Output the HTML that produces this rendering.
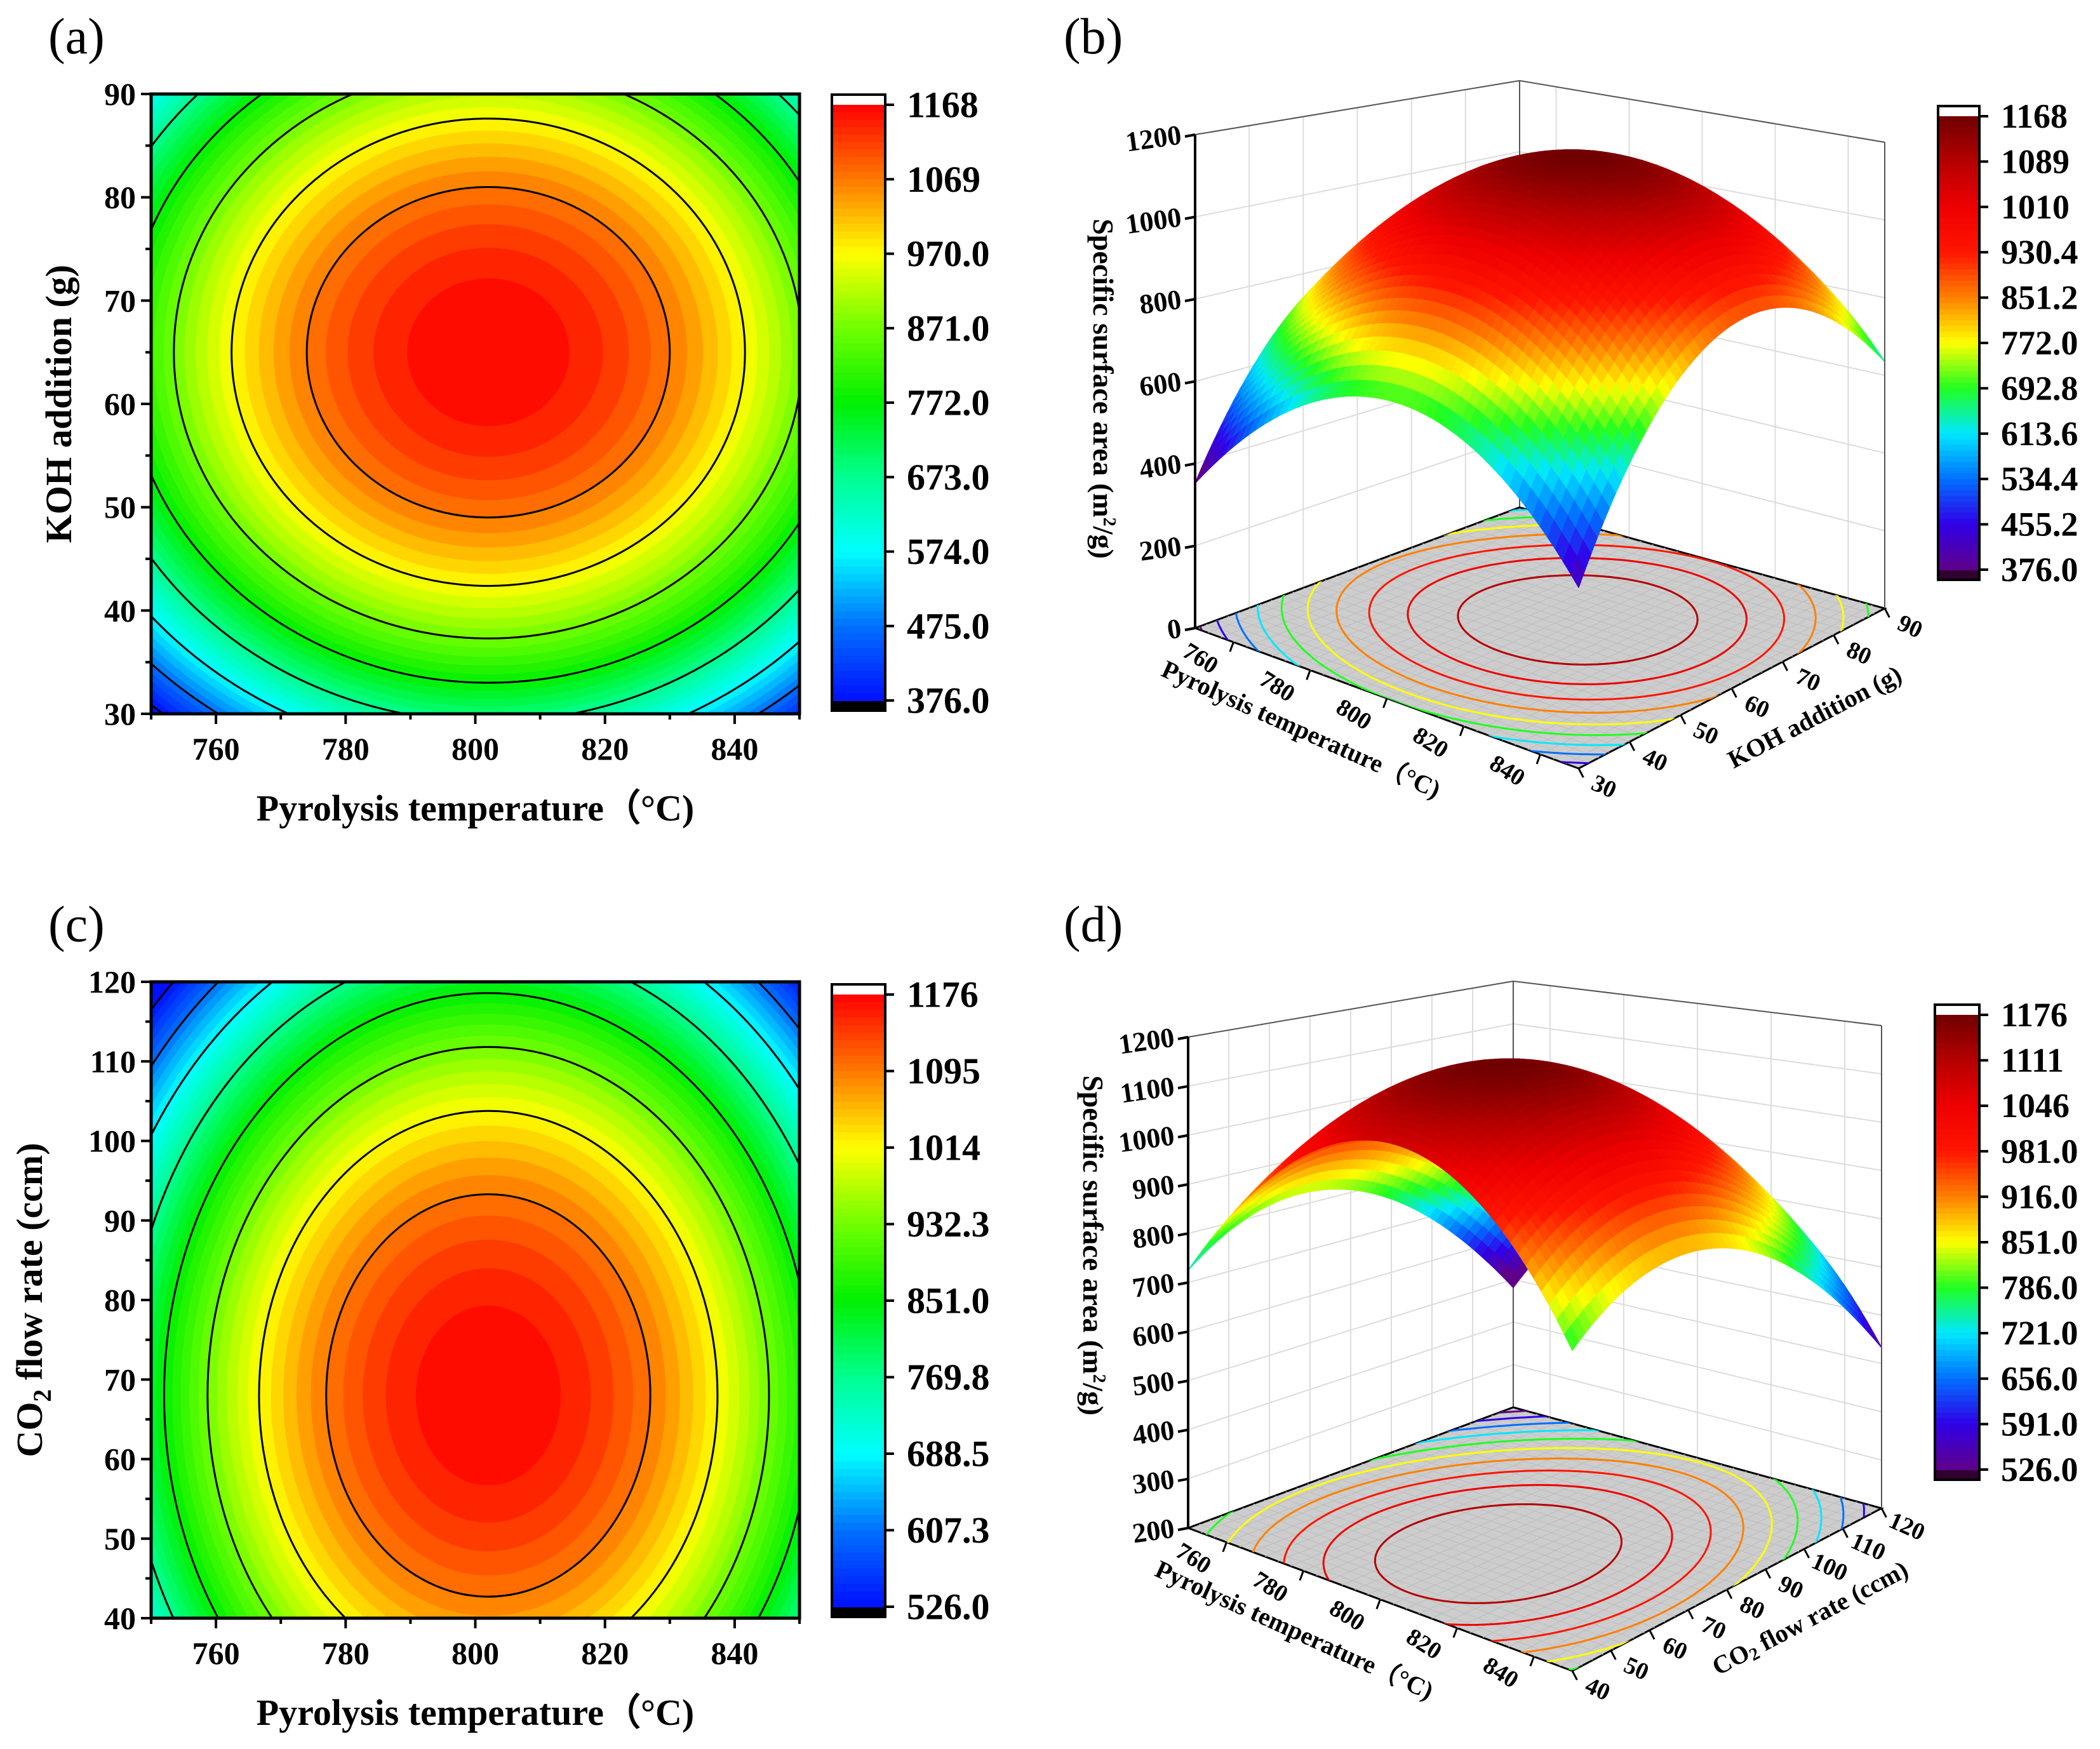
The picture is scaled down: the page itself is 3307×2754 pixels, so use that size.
<!DOCTYPE html>
<html><head><meta charset="utf-8"><style>
html,body{margin:0;padding:0;background:#fff;overflow:hidden;width:3307px;height:2754px;}
svg{display:block;font-family:"Liberation Serif",serif;}
</style></head><body>
<svg id="fig" xmlns="http://www.w3.org/2000/svg" width="3307" height="2754" viewBox="0 0 3307 2754" overflow="hidden">
<rect x="0" y="0" width="3307" height="2754" fill="#fff"/>
<text x="76" y="84" font-size="80">(a)</text>
<text x="1675" y="84" font-size="80">(b)</text>
<text x="76" y="1482" font-size="80">(c)</text>
<text x="1675" y="1482" font-size="80">(d)</text>
</svg>
<script>
// ---- data ----
const tempTicks=[760,780,800,820,840];
const kohTicks=[30,40,50,60,70,80,90];
const co2Ticks=[40,50,60,70,80,90,100,110,120];
const zTicksB=[0,200,400,600,800,1000,1200];
const zTicksD=[200,300,400,500,600,700,800,900,1000,1100,1200];
const cbarLabelsA=["1168","1069","970.0","871.0","772.0","673.0","574.0","475.0","376.0"];
const cbarLabelsC=["1176","1095","1014","932.3","851.0","769.8","688.5","607.3","526.0"];
const cbarLabelsB=["1168","1089","1010","930.4","851.2","772.0","692.8","613.6","534.4","455.2","376.0"];
const cbarLabelsD=["1176","1111","1046","981.0","916.0","851.0","786.0","721.0","656.0","591.0","526.0"];
// fitted response-surface parameters [KOH model, CO2 model]
const surfacePeak=[1168,1176];
const surfaceMin=[376,526];
const optimumTemp=[802,802];
const optimumSecond=[65,68];
const curvTemp=[0.1263,0.13];
const curvSecond=[0.387,0.127];

const NS='http://www.w3.org/2000/svg';
const svg=document.getElementById('fig');
function mk(tag,attrs,parent){const e=document.createElementNS(NS,tag);for(const k in attrs)e.setAttribute(k,attrs[k]);(parent||svg).appendChild(e);return e;}
function hex(c){return [parseInt(c.substr(1,2),16),parseInt(c.substr(3,2),16),parseInt(c.substr(5,2),16)];}
function cmap(stops,t){t=Math.max(0,Math.min(1,t));for(let i=1;i<stops.length;i++){if(t<=stops[i][0]){const a=stops[i-1],b=stops[i];const f=(t-a[0])/(b[0]-a[0]);const ca=hex(a[1]),cb=hex(b[1]);return 'rgb('+ca.map((v,j)=>Math.round(v+(cb[j]-v)*f)).join(',')+')';}}return stops[stops.length-1][1];}
const cmap2D=[[0,'#0010ff'],[0.125,'#0070ff'],[0.25,'#00ffff'],[0.375,'#00ff90'],[0.5,'#00f000'],[0.625,'#70ff00'],[0.75,'#ffff00'],[0.875,'#ff7800'],[1,'#ff0000']];
const cmap3D=[[0,'#60008a'],[0.1,'#3000e8'],[0.2,'#0070ff'],[0.3,'#00e8ff'],[0.4,'#20ff20'],[0.5,'#ffff00'],[0.6,'#ff8000'],[0.7,'#ff1500'],[0.8,'#ee0000'],[0.9,'#b50000'],[1,'#700000']];
function model(i,t,s){return surfacePeak[i]-curvTemp[i]*(t-optimumTemp[i])**2-curvSecond[i]*(s-optimumSecond[i])**2;}

function colorbar(x0,x1,yTop,yBot,stops,labels,fs,name){
  const g=mk('g',{});
  
  
  const nb=80,h=(yBot-yTop);
  mk('rect',{x:x0,y:yTop-16,width:x1-x0,height:16,fill:'#fff'},g);
  mk('rect',{x:x0,y:yBot,width:x1-x0,height:16,fill:stops===cmap2D?'#000':'#300030'},g);
  for(let j=0;j<nb;j++){mk('rect',{x:x0,y:yTop+j*h/nb,width:x1-x0,height:h/nb+1,fill:cmap(stops,1-(j+0.5)/nb)},g);}
  const fr=mk('rect',{x:x0,y:yTop-16,width:x1-x0,height:h+32,fill:'none',stroke:'#000','stroke-width':4},g);
  
  
  labels.forEach((l,j)=>{const y=yTop+j*h/(labels.length-1);
    mk('line',{x1:x1,x2:x1+14,y1:y,y2:y,stroke:'#000','stroke-width':4},g);
    const t=mk('text',{x:x1+34,y:y,'font-size':fs,'font-weight':'bold','dominant-baseline':'central'},g);
    t.textContent=l;
    
    });
}

function panel2D(o){
  const i=o.idx,g=mk('g',{});
  
  
  const cid='clip'+o.name;
  const cp=mk('clipPath',{id:cid},g);mk('rect',{x:o.x0,y:o.y0,width:o.x1-o.x0,height:o.y1-o.y0},cp);
  const sx=v=>o.x0+(v-o.tmin)/(o.tmax-o.tmin)*(o.x1-o.x0);
  const sy=v=>o.y1-(v-o.smin)/(o.smax-o.smin)*(o.y1-o.y0);
  const pxT=(o.x1-o.x0)/(o.tmax-o.tmin),pxS=(o.y1-o.y0)/(o.smax-o.smin);
  const vmin=surfaceMin[i],vmax=surfacePeak[i],P=surfacePeak[i];
  const cg=mk('g',{'clip-path':'url(#'+cid+')'},g);
  mk('rect',{x:o.x0,y:o.y0,width:o.x1-o.x0,height:o.y1-o.y0,fill:cmap(cmap2D,0)},cg);
  const nb=40,d=(vmax-vmin)/nb;
  const cx=sx(optimumTemp[i]),cy=sy(optimumSecond[i]);
  for(let j=-6;j<nb;j++){const L=vmin+j*d;if(L>=P)continue;
    const e=mk('ellipse',{cx:cx,cy:cy,rx:Math.sqrt((P-L)/curvTemp[i])*pxT,ry:Math.sqrt((P-L)/curvSecond[i])*pxS,fill:cmap(cmap2D,(L+d/2-vmin)/(vmax-vmin)),stroke:'none'},cg);
    
    }
  const step=(vmax-vmin)/8;
  for(let n=1;n<=12;n++){const L=P-n*step;
    const e=mk('ellipse',{cx:cx,cy:cy,rx:Math.sqrt((P-L)/curvTemp[i])*pxT,ry:Math.sqrt((P-L)/curvSecond[i])*pxS,fill:'none',stroke:'#000','stroke-width':3},cg);
    
    }
  const fr=mk('rect',{x:o.x0,y:o.y0,width:o.x1-o.x0,height:o.y1-o.y0,fill:'none',stroke:'#000','stroke-width':5},g);
  
  
  for(let v=o.tmin;v<=o.tmax;v+=10){const x=sx(v),maj=tempTicks.includes(v);
    mk('line',{x1:x,x2:x,y1:o.y1,y2:o.y1+(maj?16:9),stroke:'#000','stroke-width':4},g);}
  tempTicks.forEach(v=>{const t=mk('text',{x:sx(v),y:o.y1+72,'font-size':50,'font-weight':'bold','text-anchor':'middle'},g);t.textContent=v;
    
    });
  const st=o.yticks[1]-o.yticks[0];
  for(let v=o.smin;v<=o.smax+0.01;v+=st/2){const y=sy(v),maj=o.yticks.includes(v);
    mk('line',{x1:o.x0,x2:o.x0-(maj?16:9),y1:y,y2:y,stroke:'#000','stroke-width':4},g);}
  o.yticks.forEach(v=>{const t=mk('text',{x:o.x0-24,y:sy(v),'font-size':50,'font-weight':'bold','text-anchor':'end','dominant-baseline':'central'},g);t.textContent=v;
    
    });
  const xt=mk('text',{x:(o.x0+o.x1)/2,y:o.y1+168,'font-size':58,'font-weight':'bold','text-anchor':'middle'},g);
  xt.textContent='Pyrolysis temperature（°C)';
  
  
  const yt=mk('text',{x:0,y:0,'font-size':58,'font-weight':'bold','text-anchor':'middle',transform:'translate('+o.ytx+','+(o.y0+o.y1)/2+') rotate(-90)'},g);
  yt.innerHTML=o.ytitle;
  
  
}

function unit(v){const l=Math.hypot(v[0],v[1]);return [v[0]/l,v[1]/l];}
function panel3D(o){
  const i=o.idx,g=mk('g',{});
  
  
  const tr=o.tmax-o.tmin,sr=o.smax-o.smin,zr=o.zmax-o.zmin;
  const C=o.corners,H=o.heights; // L,F,R,B
  const P=(t,s,z)=>{const a=(t-o.tmin)/tr,b=(s-o.smin)/sr;
    const w=[(1-a)*(1-b),a*(1-b),a*b,(1-a)*b];
    let x=0,y=0,h=0;for(let k=0;k<4;k++){x+=w[k]*C[k][0];y+=w[k]*C[k][1];h+=w[k]*H[k];}
    return [x,y-(z-o.zmin)/zr*h];};
  const pts=a=>a.map(p=>p[0].toFixed(1)+','+p[1].toFixed(1)).join(' ');
  const tmin=o.tmin,tmax=o.tmax,smin=o.smin,smax=o.smax,zmin=o.zmin,zmax=o.zmax;
  mk('polygon',{points:pts([P(tmin,smin,zmin),P(tmin,smax,zmin),P(tmin,smax,zmax),P(tmin,smin,zmax)]),fill:'#fff'},g);
  const gl={stroke:'#dcdcdc','stroke-width':2};
  o.zticks.forEach(z=>{let a=P(tmin,smin,z),b=P(tmin,smax,z),c=P(tmax,smax,z);mk('polyline',Object.assign({points:pts([a,b,c]),fill:'none'},gl),g);});
  tempTicks.forEach(t=>{let a=P(t,smax,zmin),b=P(t,smax,zmax);mk('line',Object.assign({x1:a[0],y1:a[1],x2:b[0],y2:b[1]},gl),g);});
  o.sticks.forEach(s=>{let a=P(tmin,s,zmin),b=P(tmin,s,zmax);mk('line',Object.assign({x1:a[0],y1:a[1],x2:b[0],y2:b[1]},gl),g);});
  const bl={stroke:'#555','stroke-width':2};
  const bv=[P(tmin,smax,zmin),P(tmin,smax,zmax)];
  mk('line',Object.assign({x1:bv[0][0],y1:bv[0][1],x2:bv[1][0],y2:bv[1][1]},bl),g);
  const floorPts=pts([P(tmin,smin,zmin),P(tmax,smin,zmin),P(tmax,smax,zmin),P(tmin,smax,zmin)]);
  const fl=mk('polygon',{points:floorPts,fill:'#cdcdcd',stroke:'#000','stroke-width':3},g);
  
  
  for(let k=1;k<30;k++){let t=tmin+k*tr/30,a=P(t,smin,zmin),b=P(t,smax,zmin);mk('line',{x1:a[0],y1:a[1],x2:b[0],y2:b[1],stroke:'#bdbdbd','stroke-width':1},g);
    let s=smin+k*sr/30;a=P(tmin,s,zmin);b=P(tmax,s,zmin);mk('line',{x1:a[0],y1:a[1],x2:b[0],y2:b[1],stroke:'#bdbdbd','stroke-width':1},g);}
  const cid='fclip'+o.name;const cp=mk('clipPath',{id:cid},g);mk('polygon',{points:floorPts},cp);
  const fg=mk('g',{'clip-path':'url(#'+cid+')'},g);
  const vmin=surfaceMin[i],vmax=surfacePeak[i],Pk=surfacePeak[i];
  const step=(vmax-vmin)/10;
  for(let n=1;n<=12;n++){const L=Pk-n*step,rt=Math.sqrt((Pk-L)/curvTemp[i]),rs=Math.sqrt((Pk-L)/curvSecond[i]);const arr=[];
    for(let q=0;q<=120;q++){const th=q/120*2*Math.PI;arr.push(P(optimumTemp[i]+rt*Math.cos(th),optimumSecond[i]+rs*Math.sin(th),zmin));}
    const c=mk('polyline',{points:pts(arr),fill:'none',stroke:cmap(cmap3D,(L-vmin)/(vmax-vmin)),'stroke-width':3},fg);
    
    }
  const N=50,quads=[];
  for(let a=0;a<N;a++)for(let b=0;b<N;b++){const t0=tmin+a*tr/N,t1=tmin+(a+1)*tr/N,s0=smin+b*sr/N,s1=smin+(b+1)*sr/N;
    const v=[model(i,t0,s0),model(i,t1,s0),model(i,t1,s1),model(i,t0,s1)];
    quads.push({d:(N-a-0.5)+(b+0.5),p:[P(t0,s0,v[0]),P(t1,s0,v[1]),P(t1,s1,v[2]),P(t0,s1,v[3])],v:(v[0]+v[1]+v[2]+v[3])/4});}
  quads.sort((x,y)=>y.d-x.d);
  const sg=mk('g',{},g);
  
  
  quads.forEach(q=>{const col=cmap(cmap3D,(q.v-vmin)/(vmax-vmin));mk('polygon',{points:pts(q.p),fill:col,stroke:col,'stroke-width':1.6,'stroke-linejoin':'round'},sg);});
  [[P(tmin,smin,zmax),P(tmin,smax,zmax)],[P(tmin,smax,zmax),P(tmax,smax,zmax)],[P(tmax,smax,zmin),P(tmax,smax,zmax)]].forEach(e=>mk('line',Object.assign({x1:e[0][0],y1:e[0][1],x2:e[1][0],y2:e[1][1]},bl),g));
  const za=P(tmin,smin,zmin),zb=P(tmin,smin,zmax);
  mk('line',{x1:za[0],y1:za[1],x2:zb[0],y2:zb[1],stroke:'#000','stroke-width':4},g);
  o.zticks.forEach(z=>{const p=P(tmin,smin,z);mk('line',{x1:p[0],y1:p[1],x2:p[0]-16,y2:p[1]+3,stroke:'#000','stroke-width':4},g);
    const t=mk('text',{x:p[0]-22,y:p[1],'font-size':44,'font-weight':'bold','text-anchor':'end','dominant-baseline':'central',transform:'rotate(-8 '+(p[0]-22)+' '+p[1]+')'},g);t.textContent=z;
    
    });
  const tL=unit([C[1][0]-C[0][0],C[1][1]-C[0][1]]),nL=[-tL[1],tL[0]];
  const tR=unit([C[2][0]-C[1][0],C[2][1]-C[1][1]]),nR=[-tR[1],tR[0]];
  tempTicks.forEach(v=>{const p=P(v,smin,zmin);mk('line',{x1:p[0],y1:p[1],x2:p[0]+nL[0]*16,y2:p[1]+nL[1]*16,stroke:'#000','stroke-width':3},g);
    const x=p[0]-tL[0]*40+nL[0]*42,y=p[1]-tL[1]*40+nL[1]*42;const t=mk('text',{x:x,y:y,'font-size':38,'font-weight':'bold','text-anchor':'middle','dominant-baseline':'central',transform:'rotate(32 '+x+' '+y+')'},g);t.textContent=v;
    
    });
  o.sticks.forEach(v=>{const p=P(tmax,v,zmin);mk('line',{x1:p[0],y1:p[1],x2:p[0]+nR[0]*16,y2:p[1]+nR[1]*16,stroke:'#000','stroke-width':3},g);
    const x=p[0]+tR[0]*22+nR[0]*44,y=p[1]+tR[1]*22+nR[1]*44;const t=mk('text',{x:x,y:y,'font-size':38,'font-weight':'bold','text-anchor':'middle','dominant-baseline':'central',transform:'rotate(24 '+x+' '+y+')'},g);t.textContent=v;
    
    });
  const zt=mk('text',{x:0,y:0,'font-size':46,'font-weight':'bold','text-anchor':'middle',transform:'translate('+o.zt[0]+','+o.zt[1]+') rotate(90)'},g);
  zt.innerHTML='Specific surface area (m<tspan font-size="28" dy="-16">2</tspan><tspan dy="16">/g)</tspan>';
  
  
  const mLF=[(C[0][0]+C[1][0])/2,(C[0][1]+C[1][1])/2],mFR=[(C[1][0]+C[2][0])/2,(C[1][1]+C[2][1])/2];
  const tx=mLF[0]-tL[0]*110+nL[0]*92,ty=mLF[1]-tL[1]*110+nL[1]*92;
  const aL=Math.atan2(tL[1],tL[0])*180/Math.PI+4;
  const tt=mk('text',{x:0,y:0,'font-size':40,'font-weight':'bold','text-anchor':'middle','dominant-baseline':'central',transform:'translate('+tx+','+ty+') rotate('+aL+')'},g);
  tt.textContent='Pyrolysis temperature（°C)';
  
  
  const sx2=mFR[0]+tR[0]*95+nR[0]*100,sy2=mFR[1]+tR[1]*95+nR[1]*100;
  const aR=Math.atan2(tR[1],tR[0])*180/Math.PI;
  const s2=mk('text',{x:0,y:0,'font-size':40,'font-weight':'bold','text-anchor':'middle','dominant-baseline':'central',transform:'translate('+sx2+','+sy2+') rotate('+aR+')'},g);
  s2.innerHTML=o.stitle;
  
  
}

panel2D({idx:0,name:'contour-a',x0:238,x1:1259,y0:148,y1:1124,tmin:750,tmax:850,smin:30,smax:90,yticks:kohTicks,ytx:112,ytitle:'KOH addition (g)'});
colorbar(1310,1394,165,1103,cmap2D,cbarLabelsA,58,'colorbar-a');
panel2D({idx:1,name:'contour-c',x0:238,x1:1259,y0:1546,y1:2548,tmin:750,tmax:850,smin:40,smax:120,yticks:co2Ticks,ytx:66,ytitle:'CO<tspan font-size="40" dy="14">2</tspan><tspan dy="-14">  flow rate (ccm)</tspan>'});
colorbar(1310,1394,1566,2530,cmap2D,cbarLabelsC,58,'colorbar-c');
panel3D({idx:0,name:'surface-b',corners:[[1882,989],[2486,1210],[2968,958],[2393,799]],heights:[777,849,734,672],tmin:750,tmax:850,smin:30,smax:90,zmin:0,zmax:1200,zticks:zTicksB,sticks:kohTicks,zt:[1722,612],stitle:'KOH addition (g)'});
colorbar(3052,3117,183,897,cmap3D,cbarLabelsB,54,'colorbar-b');
panel3D({idx:1,name:'surface-d',corners:[[1871,2406],[2476,2631],[2963,2375],[2383,2216]],heights:[773,875,760,671],tmin:750,tmax:850,smin:40,smax:120,zmin:200,zmax:1200,zticks:zTicksD,sticks:co2Ticks,zt:[1706,1961],stitle:'CO<tspan font-size="28" dy="10">2</tspan><tspan dy="-10"> flow rate (ccm)</tspan>'});
colorbar(3047,3117,1598,2314,cmap3D,cbarLabelsD,54,'colorbar-d');
</script>
</body></html>
